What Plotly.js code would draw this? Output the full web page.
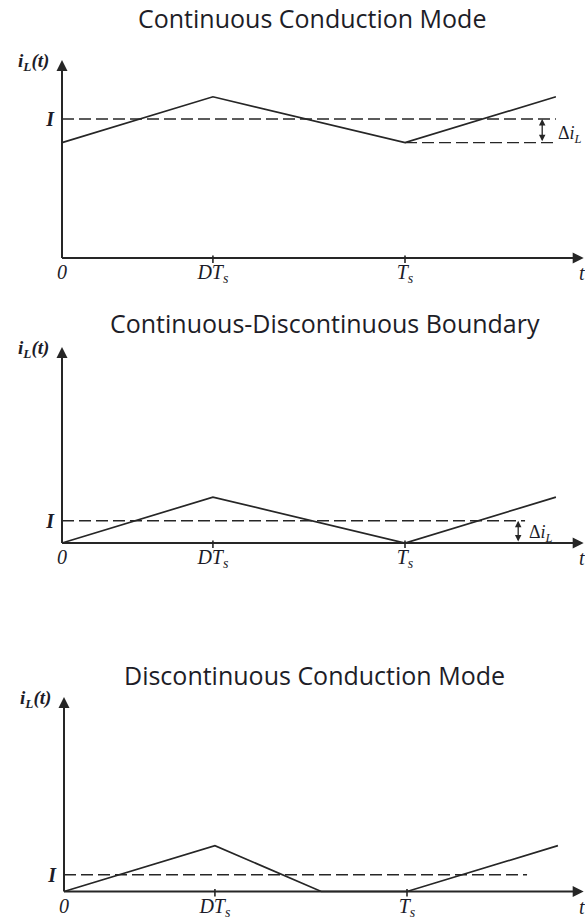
<!DOCTYPE html>
<html>
<head>
<meta charset="utf-8">
<script src="https://cdn.plot.ly/plotly-3.0.1.min.js"></script>
<style>
  html, body { margin: 0; padding: 0; background: #ffffff; }
  #chart { width: 585px; height: 919px; }
</style>
</head>
<body>
<div id="chart"></div>
<script>
// Inductor current waveforms of a buck converter in three operating modes.
// Time is in units of the switching period T_s (duty cycle D = 0.44),
// current is in arbitrary units.

const panelTitles = [
  'Continuous Conduction Mode',
  'Continuous-Discontinuous Boundary',
  'Discontinuous Conduction Mode'
];

// Continuous conduction mode
const tCcm = [0, 0.44, 1, 1.44];
const iCcm = [0.83, 1.16, 0.83, 1.16];
const avgCcm = 1.0;

// Boundary between continuous and discontinuous conduction
const tBnd = [0, 0.44, 1, 1.44];
const iBnd = [0, 0.33, 0, 0.33];
const avgBnd = 0.16;

// Discontinuous conduction mode
const tDcm = [0, 0.44, 0.75, 1, 1.44];
const iDcm = [0, 0.33, 0, 0, 0.33];
const avgDcm = 0.12;

// Time axis labels
const tickTimes = [0, 0.44, 1];
const tickLabels = ['0', 'DT<sub>s</sub>', 'T<sub>s</sub>'];
const markedTimes = [0.44, 1];

// ---- page geometry (pixels) ----
const W = 585, H = 919;
const SX = 343;   // px per switching period
const SY = 139;   // px per current unit
const frames = [
  { x0: 62, y0: 258,   top: 60,  titleX: 312, titleY: 18 },
  { x0: 62, y0: 543,   top: 347, titleX: 325, titleY: 323 },
  { x0: 64, y0: 891.5, top: 697, titleX: 314, titleY: 675 }
];
const padL = 7, padB = 6;

const ink = '#262626';
const textInk = '#1c1c28';
const serif = 'Liberation Serif, Times New Roman, serif';
const sans = 'Open Sans, Noto Sans, sans-serif';

const series = [
  { t: tCcm, i: iCcm, avg: avgCcm, avgEnd: 1.44 },
  { t: tBnd, i: iBnd, avg: avgBnd, avgEnd: 1.35 },
  { t: tDcm, i: iDcm, avg: avgDcm, avgEnd: 1.35 }
];

const data = [];
const layout = {
  width: W, height: H,
  margin: { l: 0, r: 0, t: 0, b: 0 },
  paper_bgcolor: '#ffffff',
  plot_bgcolor: 'rgba(0,0,0,0)',
  showlegend: false,
  shapes: [],
  annotations: []
};

frames.forEach((f, k) => {
  const sfx = k === 0 ? '' : String(k + 1);
  const xr = 'x' + sfx, yr = 'y' + sfx;
  const s = series[k];

  const xMax = (W - f.x0) / SX;
  const yMax = (f.y0 - f.top + 4) / SY;
  const xTip = (584 - f.x0) / SX;
  const yTip = (f.y0 - f.top) / SY;

  layout['xaxis' + sfx] = {
    domain: [(f.x0 - padL) / W, 1],
    range: [-padL / SX, xMax],
    showgrid: false, zeroline: false, showline: false,
    ticks: '', fixedrange: true,
    tickmode: 'array', tickvals: tickTimes, ticktext: tickLabels,
    ticklabelstandoff: -6,
    tickfont: { family: serif, size: 20, style: 'italic', color: textInk },
    anchor: yr
  };
  layout['yaxis' + sfx] = {
    domain: [1 - (f.y0 + padB) / H, 1 - (f.top - 4) / H],
    range: [-padB / SY, yMax],
    showgrid: false, zeroline: false, showline: false,
    ticks: '', fixedrange: true,
    tickmode: 'array', tickvals: [s.avg], ticktext: ['<b>I</b>'],
    tickfont: { family: serif, size: 20, style: 'italic', color: textInk },
    anchor: xr
  };

  // average current (dashed)
  data.push({
    type: 'scatter', mode: 'lines', xaxis: xr, yaxis: yr,
    x: [0, s.avgEnd], y: [s.avg, s.avg],
    line: { color: ink, width: 1.4, dash: '12px,5px' },
    hoverinfo: 'skip'
  });
  // inductor current
  data.push({
    type: 'scatter', mode: 'lines', xaxis: xr, yaxis: yr,
    x: s.t, y: s.i,
    line: { color: ink, width: 1.7 },
    hoverinfo: 'skip'
  });

  // axes
  layout.shapes.push(
    { type: 'line', xref: xr, yref: yr, x0: 0, x1: xTip - 0.01, y0: 0, y1: 0,
      line: { color: ink, width: 2 } },
    { type: 'line', xref: xr, yref: yr, x0: 0, x1: 0, y0: 0, y1: yTip - 0.03,
      line: { color: ink, width: 2 } }
  );
  markedTimes.forEach(tv => {
    layout.shapes.push({
      type: 'line', xref: xr, yref: yr, x0: tv, x1: tv,
      y0: -5 / SY, y1: 2.5 / SY, line: { color: ink, width: 1.6 }
    });
  });

  // arrowheads
  layout.annotations.push(
    { xref: xr, yref: yr, axref: xr, ayref: yr, x: xTip - 0.001, y: 0,
      ax: xTip - 0.03, ay: 0, text: '', showarrow: true,
      arrowhead: 2, arrowsize: 1.1, arrowwidth: 2, arrowcolor: ink, standoff: 0 },
    { xref: xr, yref: yr, axref: xr, ayref: yr, x: 0, y: yTip,
      ax: 0, ay: yTip - 0.05, text: '', showarrow: true,
      arrowhead: 2, arrowsize: 1.1, arrowwidth: 2, arrowcolor: ink, standoff: 0 }
  );

  // axis names
  layout.annotations.push(
    { xref: xr, yref: yr, x: 0, y: yTip, xanchor: 'right', yanchor: 'middle',
      xshift: -11, yshift: -2, showarrow: false,
      text: '<b><i>i<sub>L</sub>(t)</i></b>',
      font: { family: serif, size: 19, color: textInk } },
    { xref: xr, yref: yr, x: xTip - 0.005, y: 0, xanchor: 'center', yanchor: 'top',
      yshift: -2, showarrow: false, text: '<i>t</i>',
      font: { family: serif, size: 20, color: textInk } }
  );

  // panel title
  layout.annotations.push({
    xref: 'paper', yref: 'paper', x: f.titleX / W, y: 1 - f.titleY / H,
    xanchor: 'center', yanchor: 'middle', showarrow: false,
    text: panelTitles[k], font: { family: sans, size: 25, color: '#1d1d27' }
  });
});

// ripple markers
const ccmMin = iCcm[0];
data.push({
  type: 'scatter', mode: 'lines', xaxis: 'x', yaxis: 'y',
  x: [tCcm[2], tCcm[3]], y: [ccmMin, ccmMin],
  line: { color: ink, width: 1.4, dash: '12px,5px' }, hoverinfo: 'skip'
});
layout.annotations.push(
  { xref: 'x', yref: 'y', axref: 'x', ayref: 'y', x: 1.40, y: avgCcm,
    ax: 1.40, ay: ccmMin, text: '', showarrow: true, arrowside: 'end+start',
    arrowhead: 2, arrowsize: 1, arrowwidth: 1.3, arrowcolor: ink, standoff: 0, startstandoff: 0 },
  { xref: 'x', yref: 'y', x: 1.44, y: (avgCcm + ccmMin) / 2, xanchor: 'left', yanchor: 'middle',
    xshift: 0, yshift: -4, showarrow: false, text: 'Δ<i>i<sub>L</sub></i>',
    font: { family: serif, size: 18, color: textInk } },
  { xref: 'x2', yref: 'y2', axref: 'x2', ayref: 'y2', x: 1.33, y: avgBnd,
    ax: 1.33, ay: 0, text: '', showarrow: true, arrowside: 'end+start',
    arrowhead: 2, arrowsize: 1, arrowwidth: 1.3, arrowcolor: ink, standoff: 0, startstandoff: 0 },
  { xref: 'x2', yref: 'y2', x: 1.355, y: avgBnd / 2, xanchor: 'left', yanchor: 'middle',
    xshift: 0, yshift: -2, showarrow: false, text: 'Δ<i>i<sub>L</sub></i>',
    font: { family: serif, size: 18, color: textInk } }
);

Plotly.newPlot('chart', data, layout, { staticPlot: true, displayModeBar: false });
</script>
</body>
</html>
